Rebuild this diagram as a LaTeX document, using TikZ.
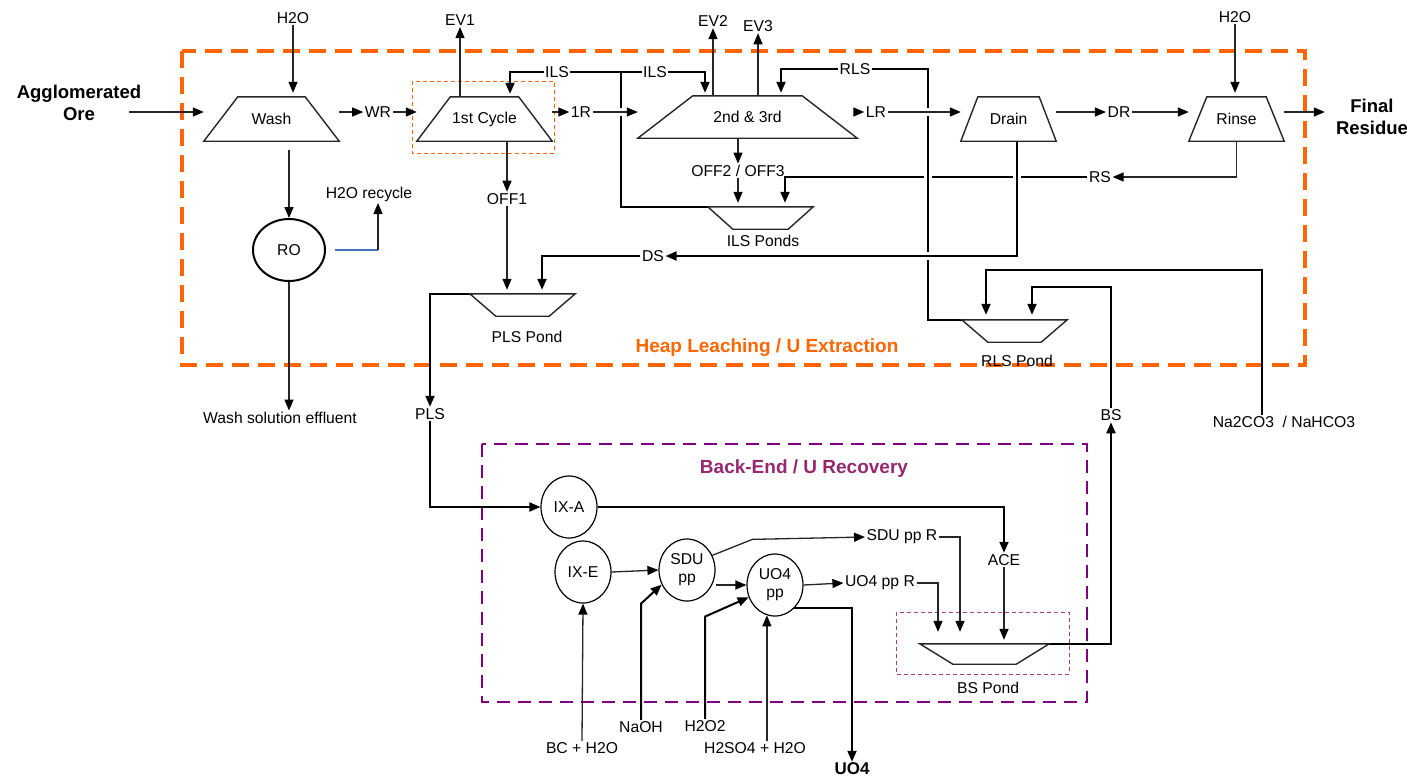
\documentclass[tikz,border=0pt]{standalone}
\usepackage{fontspec}
\setmainfont{Liberation Sans}
\usepackage{tikz}
\usetikzlibrary{arrows.meta,shapes.geometric,calc}

\definecolor{heaporange}{RGB}{255,102,0}
\definecolor{backpurple}{RGB}{128,0,128}
\definecolor{backtitle}{RGB}{150,40,110}
\definecolor{pondpink}{RGB}{170,60,120}
\definecolor{recblue}{RGB}{68,114,196}

% heap unit (wide base) and pond (wide top) outlines around a named node
\newcommand{\heapunit}[2]{\draw[unitline] (#1.south west) -- ($(#1.north west)+(#2,0)$) -- ($(#1.north east)-(#2,0)$) -- (#1.south east) -- cycle;}
\newcommand{\pondunit}[2]{\draw[unitline] (#1.north west) -- ($(#1.south west)+(#2,0)$) -- ($(#1.south east)-(#2,0)$) -- (#1.north east) -- cycle;}

\begin{document}
\begin{tikzpicture}[x=1pt,y=-1pt,
    lbl/.style={font=\fontsize{15.7}{18}\selectfont,inner sep=1.5pt,align=center},
    title/.style={font=\fontsize{18.5}{22}\selectfont\bfseries,inner sep=1pt,align=center},
    unit/.style={lbl,rectangle,inner sep=0pt},
    circ/.style={lbl,ellipse,draw,line width=1.2pt,minimum width=56pt,minimum height=62pt,inner sep=0pt},
    unitline/.style={line width=1.4pt,black!85,line join=miter},
    flow/.style={line width=1.3pt,black!85,-{Triangle[length=11pt,width=9pt,color=black]}},
    feed/.style={line width=2pt,black,-{Triangle[length=11pt,width=9pt]}},
    recycle/.style={line width=1.5pt,recblue},
    bridge/.style={preaction={draw=white,line width=8pt,-}},
    heapframe/.style={heaporange,line width=3.5pt,dash pattern=on 17pt off 9pt},
    backframe/.style={backpurple,line width=2.5pt,dash pattern=on 13pt off 8pt},
    cycframe/.style={heaporange,line width=1pt,dash pattern=on 4pt off 3pt},
    bsframe/.style={pondpink,line width=1pt,dash pattern=on 4pt off 3pt}]
\useasboundingbox (0,0) rectangle (1407,777);

% section frames
\draw[heapframe] (182,51) rectangle (1305,365);
\draw[backframe] (482,444) rectangle (1087,702);
\draw[cycframe] (412,81) rectangle (554,153);
\draw[bsframe] (896,612) rectangle (1069,674);

% heap leaching
\node[title] (ore) at (79,103) {Agglomerated\\Ore};
\node[lbl] (h2oa) at (293,18) {H2O};
\node[unit,minimum width=135pt,minimum height=44pt] (wash) at (271.5,119) {Wash};
\node[lbl] (wr) at (378,112) {WR};
\node[unit,minimum width=135pt,minimum height=44pt] (cyc1) at (484.5,119) {1st Cycle};
\node[lbl] (ev1) at (460,20) {EV1};
\node[lbl] (ilsa) at (557,72) {ILS};
\node[lbl] (ilsb) at (655,72) {ILS};
\node[lbl] (r1) at (581,112) {1R};
\node[unit,minimum width=219pt,minimum height=42pt] (cyc23) at (747.5,117) {2nd \& 3rd};
\node[lbl] (ev2) at (713,21) {EV2};
\node[lbl] (ev3) at (758,26) {EV3};
\node[lbl] (rls) at (855,69) {RLS};
\node[lbl] (lr) at (876,112) {LR};
\node[unit,minimum width=95pt,minimum height=44pt] (drain) at (1008.5,119) {Drain};
\node[lbl] (dr) at (1119,112) {DR};
\node[unit,minimum width=95pt,minimum height=44pt] (rinse) at (1236.5,119) {Rinse};
\node[lbl] (h2ob) at (1235,17) {H2O};
\node[title] (fres) at (1372,117) {Final\\Residue};
\node[lbl] (rs) at (1100,177) {RS};
\node[lbl] (off1) at (507,199) {OFF1};
\node[lbl] (off23) at (738,171) {OFF2 / OFF3};
\node[unit,minimum width=105pt,minimum height=22pt] (ilsp) at (760.5,218) {};
\node[lbl] (ilspl) at (763,241) {ILS Ponds};
\node[lbl] (ds) at (653,256) {DS};
\node[circ,line width=2pt,minimum width=72pt] (ro) at (289,250) {RO};
\node[lbl] (h2orec) at (369,194) {H2O recycle};
\node[lbl] (wse) at (280,418) {Wash solution effluent};
\node[unit,minimum width=105pt,minimum height=22pt] (plsp) at (522.5,305) {};
\node[lbl] (plspl) at (527,337) {PLS Pond};
\node[lbl] (pls) at (430,414) {PLS};
\node[unit,minimum width=105pt,minimum height=22pt] (rlsp) at (1014.5,331) {};
\node[lbl] (rlspl) at (1017,361) {RLS Pond};
\node[title,font=\fontsize{19}{22}\selectfont\bfseries,text=heaporange] (heapt) at (767,348) {Heap Leaching / U Extraction};
\node[lbl] (bs) at (1111,415) {BS};
\node[lbl] (naco) at (1284,422) {Na2CO3\ \ / NaHCO3};

% back-end
\node[title,font=\fontsize{19}{22}\selectfont\bfseries,text=backtitle] (backt) at (804,469) {Back-End / U Recovery};
\node[circ] (ixa) at (569,507) {IX-A};
\node[circ] (ixe) at (583,572) {IX-E};
\node[circ] (sdu) at (687,570) {SDU\\pp};
\node[circ] (uo4pp) at (775,585) {UO4\\pp};
\node[lbl] (ace) at (1004,560) {ACE};
\node[lbl] (sdur) at (902,537) {SDU pp R};
\node[lbl] (uo4r) at (880,583) {UO4 pp R};
\node[unit,minimum width=129pt,minimum height=20pt] (bsp) at (984.5,654) {};
\node[lbl] (bspl) at (988,688) {BS Pond};
\node[lbl] (bch) at (582,748) {BC + H2O};
\node[lbl] (naoh) at (641,727) {NaOH};
\node[lbl] (h2o2) at (705,726) {H2O2};
\node[lbl] (h2so4) at (755,748) {H2SO4 + H2O};
\node[title,font=\fontsize{17}{20}\selectfont\bfseries] (uo4) at (852,769) {UO4};

% main line
\draw[flow] ($(ore.east |- wr)+(-13,0)$) -- (wash.west |- wr);
\draw[flow,shorten >=4pt] (h2oa.south) -- (h2oa.south |- wash.north);
\draw[flow] (wash.east |- wr) -- (wr.west);
\draw[flow] (wr.east) -- (cyc1.west |- wr);
\draw[flow] (cyc1.north -| ev1) -- (ev1.south);
\draw[flow] (cyc1.east |- r1) -- (r1.west);
\draw[flow] (cyc1.south -| off1) -- (off1.north);
\draw[flow,shorten >=4pt] (off1.south) -- (off1.south |- plsp.north);
\draw[flow] (cyc23.north -| ev2) -- (ev2.south);
\draw[flow] (cyc23.north -| ev3) -- (ev3.south);
\draw[flow] (cyc23.east |- lr) -- (lr.west);
\draw[flow] (cyc23.south -| off23) -- (off23.north);
\draw[flow,shorten >=4pt] (off23.south) -- (off23.south |- ilsp.north);
\draw[flow] (drain.east |- dr) -- (dr.west);
\draw[flow] (dr.east) -- (rinse.west |- dr);
\draw[flow,shorten >=4pt] (h2ob.south) -- (h2ob.south |- rinse.north);
\draw[flow,shorten >=10pt] (rinse.east |- dr) -- (fres.west |- dr);

% wash water
\draw[flow,shorten <=9pt] (wash.south -| ro) -- (ro.north);
\draw[flow] (ro.south) -- (ro.south |- wse.north);
\draw[recycle] ([xshift=9pt]ro.east) -- ++(43,0) coordinate (rec);
\draw[flow] (rec) -- (rec |- h2orec.south);

% solution loops
\draw[flow] (rinse.south) |- (rs.east);
\draw[feed,shorten >=4pt] (rs.west) -| ($(ilsp.north)+(24.5,0)$);
\coordinate (ilsj) at (621,72);
\draw[feed,-] (ilsp.north west) -| (ilsj);
\draw[feed,-] (ilsa.east) -- (ilsb.west);
\draw[feed,shorten >=3pt] (ilsa.west) -| ($(cyc1.north)+(25.5,0)$);
\draw[feed,shorten >=3pt] (ilsb.east) -| ($(cyc23.north)+(-42.5,0)$);
\coordinate (rlsx) at (928,69);
\draw[feed,-,bridge] (rlsp.north west) -| (rlsx) -- (rls.east);
\draw[feed,shorten >=3pt] (rls.west) -| ($(cyc23.north)+(33.5,0)$);
\draw[flow,bridge] (lr.east) -- (drain.west |- lr);
\draw[feed,bridge] ($(drain.south)+(8.5,0)$) |- (ds.east);
\draw[flow,bridge] (r1.east) -- (cyc23.west |- r1);
\draw[feed,shorten >=4pt] (ds.west) -| ($(plsp.north)+(19.5,0)$);
\draw[feed] (plsp.north west) -| (pls.north);
\draw[feed] (bsp.north east) -| (bs.south);
\draw[feed] (bs.north) |- ($(rlsp.north)+(17.5,-33)$) -- ($(rlsp.north)+(17.5,-5)$);
\draw[feed] ($(naco.north)+(-22,0)$) |- ($(rlsp.north)+(-28.5,-50)$) -- ($(rlsp.north)+(-28.5,-5)$);

% recovery
\draw[feed] (pls.south) |- (ixa.west);
\draw[feed] (ixa.east) -| (ace.north);
\draw[flow,shorten >=4pt] (ace.south) -- (ace.south |- bsp.north);
\draw[flow] (ixe.east) -- (sdu.west);
\draw[flow] (bch.north) -- (ixe.south);
\draw[feed] (naoh.north) -- (naoh.north |- ixe.south) -- (sdu.210);
\draw[feed] (h2o2.north) -- (h2o2.north |- uo4pp.south) -- (uo4pp.205);
\draw[flow] (uo4pp.255 |- h2so4.north) -- (uo4pp.255);
\draw[flow] (sdu.east |- uo4pp.west) -- (uo4pp.west);
\draw[flow] (sdu.30) -- ++(40,-16) -- (sdur.west);
\draw[flow] (uo4pp.east) -- (uo4r.west);
\draw[flow] (sdur.east) -| ($(bsp.north)+(-24.5,-12)$);
\draw[flow] (uo4r.east) -| ($(bsp.north)+(-46.5,-12)$);
\draw[feed] (uo4pp.-50) -| (uo4.north);

% unit outlines
\heapunit{wash}{34}
\heapunit{cyc1}{33.5}
\heapunit{cyc23}{55}
\heapunit{drain}{17}
\heapunit{rinse}{18}
\pondunit{ilsp}{25}
\pondunit{plsp}{26}
\pondunit{rlsp}{26}
\pondunit{bsp}{33}
\end{tikzpicture}
\end{document}
